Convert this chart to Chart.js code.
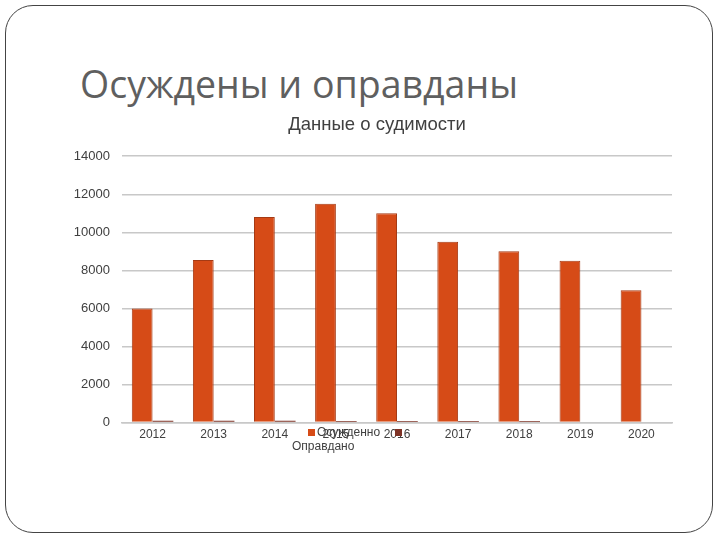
<!DOCTYPE html>
<html>
<head>
<meta charset="utf-8">
<script src="https://cdn.jsdelivr.net/npm/chart.js@4"></script>
<style>
  body { margin: 0; background: #fff; }
  .slide { position: absolute; left: 5px; top: 5px; width: 708px; height: 528px;
           border: 1.5px solid #444; border-radius: 28px; box-sizing: border-box; }
  h1 { position: absolute; left: 80px; top: 58px; margin: 0; font: 37.5px "Open Sans", "DejaVu Sans", sans-serif;
       color: #5f5f5f; font-weight: normal; }
  #wrap { position: absolute; left: 70px; top: 108px; width: 632px; height: 360px; }
</style>
</head>
<body>
<div class="slide"></div>
<h1>Осуждены и оправданы</h1>
<div id="wrap"><canvas id="myChart"></canvas></div>
<script>
var years = ['2012', '2013', '2014', '2015', '2016', '2017', '2018', '2019', '2020'];
var convicted = [6000, 8550, 10800, 11500, 11000, 9500, 9000, 8500, 6950];
var acquitted = [100, 100, 100, 80, 80, 90, 80, 50, 0];
var seriesNames = ['Осужденно', 'Оправдано'];
var yTicks = [0, 2000, 4000, 6000, 8000, 10000, 12000, 14000];

var OX = 70, OY = 108; // canvas offset on the page

// legend in the reference sits on top of the axis labels, so draw it by hand
var oddLegend = {
  id: 'oddLegend',
  afterDraw: function (chart) {
    var c = chart.ctx;
    var ds = chart.data.datasets;
    c.save();
    c.font = '12px "Liberation Sans", Arial, sans-serif';
    c.textBaseline = 'middle';
    c.fillStyle = ds[0].backgroundColor;
    c.fillRect(308 - OX, 429 - OY, 7, 7);
    c.fillStyle = '#404040';
    c.fillText(ds[0].label, 317 - OX, 433 - OY);
    c.fillStyle = ds[1].backgroundColor;
    c.fillRect(395 - OX, 429 - OY, 7, 7);
    c.fillStyle = '#404040';
    c.fillText(ds[1].label, 292 - OX, 447 - OY);
    c.restore();
  }
};

new Chart(document.getElementById('myChart'), {
  type: 'bar',
  data: {
    labels: years,
    datasets: [{
      label: seriesNames[0],
      data: convicted,
      backgroundColor: '#D64B17',
      borderColor: '#A53A14',
      borderWidth: 1
    }, {
      label: seriesNames[1],
      data: acquitted,
      backgroundColor: '#7E3326',
      borderColor: '#7E3326',
      borderWidth: 0
    }]
  },
  options: {
    responsive: true,
    maintainAspectRatio: false,
    animation: false,
    layout: { padding: { left: 0, right: 18, top: 0, bottom: 29 } },
    plugins: {
      legend: { display: false },
      tooltip: { enabled: false },
      title: {
        display: true,
        text: 'Данные о судимости',
        color: '#404040',
        font: { size: 18.5, family: '"Liberation Sans", Arial, sans-serif', weight: 'normal' },
        padding: { top: 6, bottom: 20 }
      }
    },
    datasets: { bar: { categoryPercentage: 0.68, barPercentage: 1.0 } },
    scales: {
      x: {
        grid: { display: false },
        border: { color: '#c8c8c8', width: 1.5 },
        ticks: { color: '#404040', font: { size: 12, family: '"Liberation Sans", Arial, sans-serif' }, padding: -3 }
      },
      y: {
        min: 0,
        max: 14000,
        afterBuildTicks: function (axis) { axis.ticks = yTicks.map(function (v) { return { value: v }; }); },
        afterFit: function (axis) { axis.width = 52; },
        grid: { color: '#c8c8c8', lineWidth: 1.5, drawTicks: false },
        border: { display: false },
        ticks: {
          color: '#404040', font: { size: 13, family: '"Liberation Sans", Arial, sans-serif' }, padding: 12,
          callback: function (v) { return String(v); }
        }
      },
      // empty spacer on the right so the title centres like the original
      spacer: {
        position: 'right',
        afterFit: function (axis) { axis.width = 12; },
        grid: { display: false },
        border: { display: false },
        ticks: { display: false }
      }
    }
  },
  plugins: [oddLegend]
});
</script>
</body>
</html>
